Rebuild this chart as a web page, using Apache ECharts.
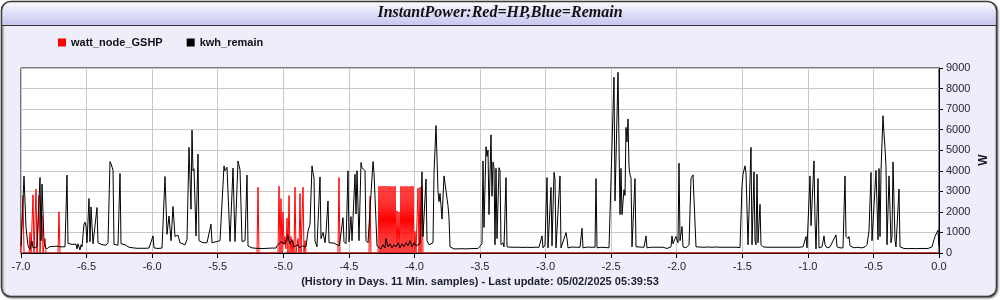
<!DOCTYPE html>
<html><head><meta charset="utf-8">
<script src="https://cdn.jsdelivr.net/npm/echarts@6/dist/echarts.min.js"></script>
<style>html,body{margin:0;padding:0;background:#fff}#c{width:1000px;height:300px}</style>
</head><body><div id="c"></div>
<script>
const titleText = 'InstantPower:Red=HP,Blue=Remain';
const seriesNames = ['watt_node_GSHP', 'kwh_remain'];
const seriesColors = ['#ff0000', '#000000'];
const xAxisTitle = '(History in Days. 11 Min. samples) - Last update: 05/02/2025 05:39:53';
const yAxisTitle = 'W';
const SAMPLE_DAYS = 7 / 918; // ~11 minute samples, index 0 = -7 days

// [sample index, watts]
const hpGSHP = [
 [0,0],[2,2800],[3,0],[8,0],[9,1000],[10,0],[12,2830],[13,0],[15,3100],[16,0],[18,2800],[19,0],[21,1830],[22,0],[24,700],[25,0],
 [37,0],[38,2000],[39,0],[236,0],[237,3200],[238,0],[257,0],[258,3250],[259,0],[260,2650],[261,0],[262,2000],[263,400],[264,800],
 [265,200],[266,1700],[267,0],[268,2800],[269,0],[270,800],[271,0],[272,600],[273,0],[274,3200],[275,0],[277,700],[278,0],[279,2900],
 [280,0],[282,3200],[283,0],[284,600],[285,0],[317,0],[318,3670],[319,0],[348,0],[349,2760],[350,0],[357,0],
 [358,3250],[359,0],[360,3250],[361,0],[362,3260],[363,0],[364,3260],[365,0],[366,3250],[367,0],[368,3250],[369,0],[370,3240],[371,0],
 [372,3240],[373,0],[374,3250],[375,0],[376,2050],[377,0],[378,2000],[379,0],[380,3250],[381,0],[382,3250],[383,0],[384,3240],[385,0],
 [386,3250],[387,0],[388,3240],[389,0],[390,3250],[391,0],[392,3250],[393,0],[394,1050],[395,0],[397,3150],[398,0],[399,3200],[400,0],
 [401,3200],[402,0],[918,0]
];

const kwhRemain = [
 [0,350],[1,300],[3,3740],[5,1250],[7,350],[9,180],[10,180],[11,580],[12,250],[14,200],[16,300],[17,250],[19,3670],[20,600],[21,3350],
 [23,550],[24,300],[26,200],[28,300],[30,220],[32,320],[34,250],[36,330],[38,260],[40,300],[42,260],[44,300],[46,3790],[47,470],
 [49,450],[51,420],[53,480],[55,430],[56,200],[57,450],[59,150],[60,400],[61,300],[63,1400],[64,1500],[65,1300],[66,500],[68,2650],
 [69,550],[70,2240],[72,450],[73,400],[76,2210],[77,500],[79,480],[81,400],[83,450],[85,380],[87,500],[89,4450],[90,4350],[92,4030],
 [93,420],[95,400],[97,380],[99,3870],[100,450],[102,420],[104,400],[106,420],[108,280],[110,320],[112,250],[114,300],[116,230],
 [118,300],[120,230],[122,300],[124,230],[126,300],[128,240],[130,300],[132,830],[133,250],[135,260],[137,220],[139,300],[141,240],
 [143,300],[144,3720],[146,910],[148,1800],[150,600],[151,1400],[152,2260],[154,800],[155,870],[157,870],[159,500],[161,480],[164,400],
 [166,650],[168,5140],[170,2130],[171,5980],[172,4000],[173,4100],[175,830],[177,4810],[178,600],[180,530],[182,500],[184,430],
 [186,500],[188,480],[190,1400],[191,500],[193,550],[196,560],[199,600],[201,620],[203,4240],[204,4000],[206,4170],[207,4200],
 [209,560],[211,600],[212,4130],[214,560],[216,600],[217,4480],[219,4050],[221,560],[224,600],[226,3790],[227,340],[229,280],
 [231,250],[233,300],[235,230],[237,290],[239,220],[241,300],[243,220],[245,280],[247,230],[249,290],[251,240],[253,280],[255,240],
 [256,350],[258,450],[260,550],[262,600],[264,450],[266,700],[267,850],[268,600],[269,450],[271,650],[273,300],[275,250],[277,400],
 [279,250],[281,350],[283,280],[285,300],[287,1070],[289,1400],[291,4240],[292,3900],[293,3650],[294,600],[296,300],[297,300],
 [299,3700],[300,700],[302,1000],[304,500],[305,1000],[307,2530],[308,500],[310,450],[313,480],[315,430],[318,350],[319,600],
 [322,1720],[323,550],[325,450],[327,4000],[328,550],[330,1770],[331,600],[334,3830],[335,1900],[336,4000],[338,600],[340,4400],
 [341,4150],[343,4150],[344,4000],[345,600],[347,500],[349,450],[352,4450],[353,3900],[355,3850],[356,340],[358,300],[360,200],
 [362,400],[364,250],[365,700],[367,300],[369,450],[371,250],[373,400],[375,300],[377,500],[379,250],[381,450],[383,300],[385,500],
 [387,350],[389,600],[391,300],[393,500],[395,350],[397,300],[399,450],[401,3950],[402,800],[405,3600],[406,600],[408,400],[410,350],
 [412,500],[413,3900],[415,6200],[417,3000],[418,2500],[419,2900],[420,2300],[421,1650],[423,3750],[425,3700],[427,2300],[428,1700],
 [429,300],[431,280],[433,200],[435,280],[437,200],[439,280],[441,210],[443,290],[445,200],[447,280],[449,210],[451,290],[453,220],
 [455,280],[457,220],[459,300],[461,450],[462,4480],[463,1240],[465,5170],[466,4700],[467,5010],[468,1870],[470,5750],[471,2760],
 [472,4430],[473,4150],[474,400],[475,4120],[476,700],[478,4150],[479,4000],[480,400],[482,500],[483,300],[485,3670],[486,300],
 [488,220],[490,280],[492,200],[494,280],[496,210],[498,280],[500,200],[502,270],[504,210],[506,280],[508,200],[510,270],[512,210],
 [514,280],[516,220],[518,280],[520,250],[521,830],[522,250],[524,400],[526,3670],[527,250],[530,3190],[531,350],[533,3920],[534,3600],
 [535,250],[537,300],[539,3750],[540,250],[542,300],[545,990],[546,700],[547,250],[549,230],[551,290],[553,210],[555,280],[557,220],
 [559,280],[561,1200],[562,250],[564,220],[566,290],[568,210],[570,280],[572,220],[574,280],[575,3620],[576,250],[578,200],[580,280],
 [582,210],[584,270],[586,200],[588,250],[589,200],[590,300],[593,8550],[594,2530],[597,8790],[599,1870],[600,4120],[601,1870],
 [603,3080],[604,2800],[605,6110],[606,5400],[607,6520],[608,4200],[609,3800],[610,3670],[611,300],[613,300],[614,3620],[615,300],
 [617,220],[619,290],[621,210],[623,280],[625,830],[626,250],[628,220],[630,280],[632,210],[634,280],[636,220],[638,280],[640,220],
 [642,280],[644,250],[646,220],[648,280],[650,300],[651,830],[652,450],[654,700],[655,800],[657,500],[658,4370],[659,600],[661,1290],
 [662,300],[665,250],[668,400],[670,3620],[672,3800],[673,3720],[675,300],[677,220],[679,290],[681,210],[683,280],[685,220],[687,290],
 [689,210],[691,280],[693,220],[695,290],[697,210],[699,280],[701,220],[703,280],[705,220],[707,280],[709,220],[711,280],[713,220],
 [715,280],[717,230],[719,260],[721,3260],[722,3830],[724,4240],[725,3900],[727,400],[729,400],[730,5140],[731,400],[733,3950],
 [734,600],[735,400],[736,3830],[737,500],[739,2370],[740,400],[742,300],[744,220],[746,280],[748,210],[750,280],[752,220],[754,280],
 [756,210],[758,280],[760,220],[762,280],[764,220],[766,280],[768,220],[770,280],[772,220],[774,280],[776,220],[778,280],[780,220],
 [782,300],[785,800],[786,250],[789,3750],[790,1330],[791,1300],[793,4480],[794,1600],[795,200],[797,3620],[798,250],[801,300],
 [803,830],[804,400],[806,250],[809,300],[811,250],[815,880],[816,300],[819,250],[821,300],[822,250],[824,3750],[825,800],[827,700],
 [828,800],[829,350],[831,330],[833,250],[836,280],[838,220],[841,250],[844,300],[846,400],[848,1070],[849,1000],[850,3920],[851,600],
 [853,650],[855,4020],[856,3950],[857,650],[858,4110],[859,800],[860,4000],[862,6680],[863,5800],[864,5100],[865,4200],[866,400],
 [868,3750],[869,3800],[870,500],[871,800],[872,4430],[874,600],[875,300],[877,350],[878,3110],[879,300],[881,250],[883,220],
 [885,280],[887,210],[889,280],[891,220],[893,280],[895,210],[897,280],[899,220],[901,280],[903,220],[905,280],[907,220],[909,280],
 [911,300],[913,650],[914,800],[915,850],[917,1110],[918,300]
];

const toDays = arr => arr.map(([i, w]) => [-7 + i * SAMPLE_DAYS, w]);
const textColor = '#1c1c30';

const chart = echarts.init(document.getElementById('c'), null, {renderer: 'canvas'});
chart.setOption({
  animation: false,
  graphic: [
    {type: 'rect', z: -10, silent: true,
     shape: {x: 1.5, y: 1.5, width: 995, height: 295, r: 9},
     style: {fill: '#eeeefa', stroke: '#3c3c3c', lineWidth: 1.5, shadowBlur: 2, shadowOffsetX: 1, shadowOffsetY: 1, shadowColor: 'rgba(0,0,0,0.5)'}},
    {type: 'rect', z: -9, silent: true,
     shape: {x: 2.5, y: 2.5, width: 993, height: 22.5, r: [8, 8, 0, 0]},
     style: {fill: new echarts.graphic.LinearGradient(0, 0, 0, 1, [
        {offset: 0, color: '#fafaff'}, {offset: 0.45, color: '#e0e0f8'}, {offset: 1, color: '#c6c6ee'}])}},
    {type: 'line', z: -8, silent: true,
     shape: {x1: 2, y1: 25.5, x2: 997, y2: 25.5},
     style: {stroke: '#333', lineWidth: 1.2}},
    {type: 'text', silent: true, x: 984, y: 160, rotation: Math.PI / 2,
     style: {text: yAxisTitle, font: 'bold 12px "Liberation Sans", Arial, sans-serif', fill: textColor, align: 'center', verticalAlign: 'middle'}}
  ],
  title: {
    text: titleText, left: 'center', top: 5, padding: 0,
    textStyle: {fontFamily: '"Liberation Serif", "DejaVu Serif", serif', fontStyle: 'italic', fontWeight: 'bold', fontSize: 16, color: '#111'}
  },
  legend: {
    left: 58, top: 37, padding: 0, itemGap: 24, itemWidth: 8, itemHeight: 8, icon: 'rect',
    data: seriesNames,
    textStyle: {fontFamily: '"Liberation Sans", Arial, sans-serif', fontWeight: 'bold', fontSize: 11, color: '#111'}
  },
  grid: {left: 21, right: 61, top: 68, bottom: 47, show: true, backgroundColor: '#fff', borderColor: '#000', borderWidth: 1, containLabel: false},
  xAxis: {
    type: 'value', min: -7, max: 0, interval: 0.5,
    name: xAxisTitle, nameLocation: 'middle', nameGap: 23,
    nameTextStyle: {fontFamily: '"Liberation Sans", Arial, sans-serif', fontWeight: 'bold', fontSize: 11, color: textColor},
    axisLine: {show: true, onZero: false, lineStyle: {color: '#000', width: 1}},
    axisTick: {show: true, length: 5, lineStyle: {color: '#000'}},
    axisLabel: {margin: 8, fontFamily: '"Liberation Sans", Arial, sans-serif', fontSize: 11, color: textColor, formatter: v => v.toFixed(1)},
    splitLine: {show: true, lineStyle: {color: '#c8c8c8', width: 1}}
  },
  yAxis: {
    type: 'value', position: 'right', min: 0, max: 9000, interval: 1000,
    axisLine: {show: true, lineStyle: {color: '#000', width: 1}},
    axisTick: {show: true, length: 4, lineStyle: {color: '#000'}},
    axisLabel: {margin: 7, fontFamily: '"Liberation Sans", Arial, sans-serif', fontSize: 11, color: textColor, formatter: v => String(v)},
    splitLine: {show: true, lineStyle: {color: '#c8c8c8', width: 1}}
  },
  series: [
    {name: seriesNames[0], type: 'line', data: toDays(hpGSHP), showSymbol: false, symbol: 'none', sampling: null,
     color: seriesColors[0], lineStyle: {color: seriesColors[0], width: 1}},
    {name: seriesNames[1], type: 'line', data: toDays(kwhRemain), showSymbol: false, symbol: 'none', sampling: null,
     color: seriesColors[1], lineStyle: {color: seriesColors[1], width: 1}}
  ]
});
</script></body></html>
